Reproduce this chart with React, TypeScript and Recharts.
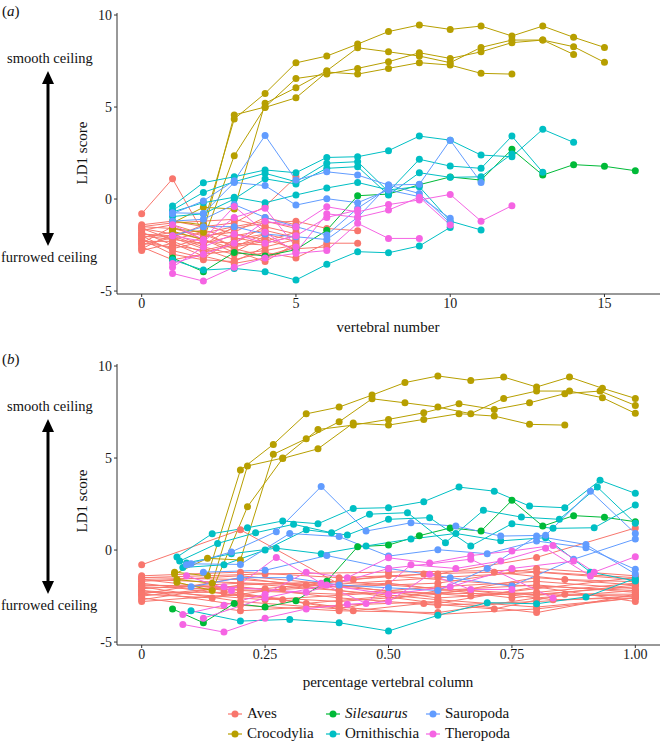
import { LineChart, Line, XAxis, YAxis } from 'recharts';

// LD1 scores by vertebra. Aves start at vertebra 0, the rest at vertebra 1.
// *Total = number of vertebrae in the column (used for panel b).
const aves = [
  [-0.8, 1.1, -1.85, -1.5, -1.2, -1.6],
  [-1.4, -1.2, -1.5, -1.3, -0.4, 1.2],
  [-1.5, -1.6, -2.0, -1.8, -1.0, -1.4],
  [-1.6, -2.2, -2.4, -2.0, -1.7, -2.1],
  [-1.7, -1.4, -1.9, -2.6, -2.3, -1.8],
  [-1.8, -2.5, -2.8, -2.4, -1.5, -1.9],
  [-1.9, -2.0, -2.6, -3.0, -2.8, -2.5],
  [-2.0, -2.8, -3.2, -2.2, -1.9, -2.3],
  [-2.1, -1.8, -2.2, -2.7, -3.1, -2.6],
  [-2.2, -3.0, -3.3, -3.4, -2.6, -2.2],
  [-2.3, -2.3, -2.9, -2.5, -2.2, -2.7, -2.6],
  [-2.4, -2.6, -2.1, -1.6, -1.3, -1.2, -1.6, -1.72],
  [-2.5, -2.1, -2.7, -3.3, -2.9, -3.2, -2.4, -2.4],
  [-2.6, -3.3, -3.0, -2.8, -3.4, -2.4],
  [-2.7, -1.9, -1.7, -2.1, -2.4, -2.0],
  [-2.8, -2.4, -3.1, -3.5, -3.2, -2.6],
  [-1.5, -1.3, -1.2, -1.1, -1.5],
  [-1.9, -2.1, -1.4, -1.9, -2.2],
  [-2.2, -2.7, -2.3, -2.4, -2.5],
  [-1.6, -1.9, -2.5, -1.5],
  [-2.0, -2.2, -1.8, -2.6, -1.9],
  [-2.4, -1.5, -2.2, -2.9, -2.0, -2.8],
];
const avesTotal = [5, 5, 5, 5, 5, 5, 5, 5, 5, 5, 6, 7, 7, 5, 5, 5, 4, 4, 4, 3, 4, 5];

const crocodylia = [
  [-1.2, -1.4, 4.35, 5.74, 7.4, 7.77, 8.42, 9.1, 9.46, 9.22, 9.4, 8.86, 9.4, 8.79, 8.24],
  [-1.3, -0.45, -0.54, 5.2, 6.05, 6.97, 8.22, 8.0, 7.77, 7.41, 8.24, 8.64, 8.64, 8.28, 7.43],
  [-1.6, -1.8, 4.57, 5.0, 6.55, 6.79, 7.1, 7.46, 7.95, 7.64, 8.0, 8.5, 8.64, 7.86],
  [-1.75, -2.2, 2.35, 4.98, 5.5, 6.9, 6.79, 7.1, 7.41, 7.28, 6.83, 6.79],
];
const crocodyliaTotal = [15, 15, 14, 14];

const silesaurus = [
  [-3.2, -3.95, -2.9, -3.1, -2.75, -1.7, 0.18, 0.27, 0.78, 1.2, 1.03, 2.7, 1.3, 1.87, 1.78, 1.54],
];
const silesaurusTotal = [16];

const ornithischia = [
  [-0.38, 0.89, 1.21, 1.58, 1.43, 2.26, 2.3, 2.63, 3.42, 3.2, 2.39, 2.3, 3.79, 3.08],
  [-0.6, 0.36, 0.94, 1.4, 0.94, 1.95, 2.03, 0.4, 2.16, 1.79, 1.67, 3.42, 1.45],
  [-0.95, -0.8, 0.0, 1.1, 0.82, 1.67, 1.76, 0.22, 1.43, 1.18, 1.21, 2.45],
  [-3.3, -3.86, -3.77, -3.95, -4.4, -3.55, -2.86, -2.92, -2.55, -1.54],
  [-0.7, -0.2, 0.1, -0.2, 0.22, 0.6, 0.9, 0.5, 0.67, -1.2, -1.68],
];
const ornithischiaTotal = [14, 13, 12, 10, 11];

const sauropoda = [
  [-0.8, -0.1, 1.0, 3.45, 1.03, 1.48, 1.3, 0.76, 0.8, 3.2, 0.9],
  [-0.75, -0.78, 0.9, 0.73, -0.33, 0.02, -0.2, 0.49, 0.13, -1.05],
  [-2.0, -1.5, -1.5, -1.9, -2.05, -2.2, -1.0, 0.76, 0.3, -1.3],
  [-1.2, -1.1, -0.3, -1.0, -1.5, -1.96, -0.5, 0.6],
];
const sauropodaTotal = [11, 10, 10, 8];

const theropoda = [
  [-4.04, -4.46, -3.7, -3.2, -2.95, -2.8, -1.32, -2.14, -2.14],
  [-3.5, -3.0, -2.4, -1.2, -1.5, -0.42, -0.7, -0.3, -0.05, 0.25, -1.2, -0.36],
  [-1.4, -2.2, -0.4, -1.8, -2.9, -0.8, -1.0, -0.6, 0.1, -1.41],
  [-3.7, -2.6, -1.9, -2.4, -2.0, -1.0, -0.6],
  [-2.0, -2.3, -1.0, -0.5, -2.6],
];
const theropodaTotal = [12, 12, 11, 8, 6];

const clades = [
  { name: 'Aves', color: '#F8766D', series: aves, totals: avesTotal, start: 0 },
  { name: 'Crocodylia', color: '#B79F00', series: crocodylia, totals: crocodyliaTotal, start: 1 },
  { name: 'Silesaurus', color: '#00BA38', series: silesaurus, totals: silesaurusTotal, start: 1 },
  { name: 'Ornithischia', color: '#00BFC4', series: ornithischia, totals: ornithischiaTotal, start: 1 },
  { name: 'Sauropoda', color: '#619CFF', series: sauropoda, totals: sauropodaTotal, start: 1 },
  { name: 'Theropoda', color: '#F564E3', series: theropoda, totals: theropodaTotal, start: 1 },
];

const legendRows = [
  ['Aves', 'Silesaurus', 'Sauropoda'],
  ['Crocodylia', 'Ornithischia', 'Theropoda'],
];

const yTicks = [-5, 0, 5, 10];
const xTicksA = [0, 5, 10, 15];
const xTicksB = [0, 0.25, 0.5, 0.75, 1];

const FONT = '"Times New Roman", "Liberation Serif", Times, "DejaVu Serif", serif';
const AXIS = '#333';

type Pt = { x: number; y: number };

const specimens = clades.flatMap((c) =>
  c.series.map((vals, i) => ({
    key: `${c.name}-${i}`,
    color: c.color,
    a: vals.map((y, j) => ({ x: c.start + j, y })) as Pt[],
    b: vals.map((y, j) => ({ x: (c.start + j) / c.totals[i], y })) as Pt[],
  }))
);

const Panel = ({ which, top }: { which: 'a' | 'b'; top: number }) => {
  const isA = which === 'a';
  return (
    <div style={{ position: 'absolute', left: 0, top }}>
      <LineChart width={662} height={320} margin={{ top: 13, right: 2, bottom: 0, left: 0 }}>
        <XAxis
          type="number"
          dataKey="x"
          domain={isA ? [-0.8, 16.8] : [-0.05, 1.05]}
          ticks={isA ? xTicksA : xTicksB}
          tickFormatter={(v: number) => (isA || v === 0 ? String(v) : v.toFixed(2))}
          allowDataOverflow
          height={26}
          tickSize={3}
          tickMargin={1}
          stroke={AXIS}
          tick={{ fontSize: 14, fill: '#1a1a1a', fontFamily: FONT }}
        />
        <YAxis
          type="number"
          domain={[-5.16, 10.11]}
          ticks={yTicks}
          allowDataOverflow
          width={117}
          tickSize={3}
          tickMargin={2}
          stroke={AXIS}
          tick={{ fontSize: 14, fill: '#1a1a1a', fontFamily: FONT }}
        />
        {specimens.map((s) => (
          <Line
            key={`l-${s.key}`}
            data={isA ? s.a : s.b}
            dataKey="y"
            stroke={s.color}
            strokeWidth={1}
            dot={false}
            activeDot={false}
            isAnimationActive={false}
          />
        ))}
        {specimens.map((s) => (
          <Line
            key={`p-${s.key}`}
            data={isA ? s.a : s.b}
            dataKey="y"
            stroke="none"
            dot={{ r: 3.5, fill: s.color, stroke: 'none', strokeWidth: 0 }}
            activeDot={false}
            isAnimationActive={false}
          />
        ))}
      </LineChart>
    </div>
  );
};

const Arrow = ({ top }: { top: number }) => (
  <svg style={{ position: 'absolute', left: 38, top }} width={20} height={176}>
    <line x1={10} y1={12} x2={10} y2={164} stroke="#000" strokeWidth={3} />
    <polygon points="4,13 10,0 16,13" fill="#000" />
    <polygon points="4,162 10,175 16,162" fill="#000" />
  </svg>
);

const text = (extra: React.CSSProperties): React.CSSProperties => ({
  position: 'absolute',
  fontFamily: FONT,
  fontSize: 15,
  color: '#111',
  whiteSpace: 'nowrap',
  lineHeight: '18px',
  ...extra,
});

const Side = ({ dy, label }: { dy: number; label: string }) => (
  <>
    <div style={text({ left: 2, top: dy + 2, fontSize: 15 })}>
      (<i>{label}</i>)
    </div>
    <div style={text({ left: 7, top: dy + 49, fontSize: 14.5 })}>smooth ceiling</div>
    <div style={text({ left: 1, top: dy + 248, fontSize: 14.5 })}>furrowed ceiling</div>
    <Arrow top={dy + 71} />
    <div
      style={text({
        left: 82,
        top: dy + 153,
        transform: 'translate(-50%, -50%) rotate(-90deg)',
      })}
    >
      LD1 score
    </div>
  </>
);

const Legend = () => {
  const xs = [235, 333, 433];
  const ys = [714, 734];
  return (
    <>
      {legendRows.map((row, r) =>
        row.map((name, c) => {
          const clade = clades.find((k) => k.name === name)!;
          return (
            <div key={name}>
              <svg
                style={{ position: 'absolute', left: xs[c] - 8, top: ys[r] - 5 }}
                width={16}
                height={10}
              >
                <line x1={1} y1={5} x2={15} y2={5} stroke={clade.color} strokeWidth={1.2} />
                <circle cx={8} cy={5} r={3.5} fill={clade.color} />
              </svg>
              <div style={text({ left: xs[c] + 12, top: ys[r] - 10, fontStyle: name === 'Silesaurus' ? 'italic' : 'normal' })}>
                {name}
              </div>
            </div>
          );
        })
      )}
    </>
  );
};

export default function App() {
  return (
    <div style={{ position: 'absolute', left: 0, top: 0, width: 662, height: 742, background: '#fff', overflow: 'hidden' }}>
      <Panel which="a" top={0} />
      <Panel which="b" top={351} />
      <Side dy={0} label="a" />
      <Side dy={348} label="b" />
      <div style={text({ left: 388, top: 318, transform: 'translateX(-50%)' })}>vertebral number</div>
      <div style={text({ left: 388, top: 673, transform: 'translateX(-50%)' })}>percentage vertebral column</div>
      <Legend />
    </div>
  );
}
